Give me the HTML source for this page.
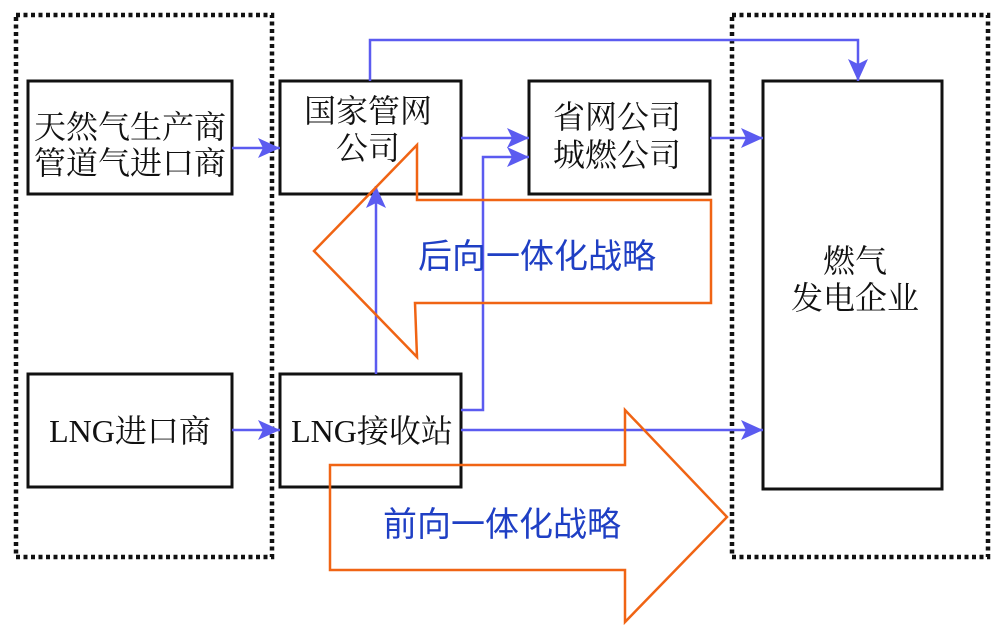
<!DOCTYPE html>
<html><head><meta charset="utf-8"><style>
body{margin:0;background:#fff}
svg text{font-family:"Liberation Serif","Noto Serif CJK SC",serif;font-size:32px;fill:#111}
.b{font-family:"Liberation Sans","Noto Sans CJK SC",sans-serif;fill:#1f3fc4;font-size:34px}
</style></head><body>
<svg width="1005" height="632" viewBox="0 0 1005 632" xmlns="http://www.w3.org/2000/svg">
<defs>
<marker id="m" viewBox="0 0 22 20" markerWidth="22" markerHeight="20" refX="22" refY="10" orient="auto" markerUnits="userSpaceOnUse"><path d="M0,0 L22,10 L0,20 L5,10 Z" fill="#5b5bf0"/></marker></defs>
<rect x="16" y="15" width="256" height="542" fill="none" stroke="#111" stroke-width="4.5" stroke-dasharray="4 3.5"/>
<rect x="732" y="15" width="256" height="542" fill="none" stroke="#111" stroke-width="4.5" stroke-dasharray="4 3.5"/>
<g fill="none" stroke="#111" stroke-width="3">
<rect x="28" y="81" width="204" height="113"/>
<rect x="280" y="81" width="181" height="113"/>
<rect x="529" y="81" width="181" height="113"/>
<rect x="763" y="81" width="179" height="408"/>
<rect x="28" y="374" width="204" height="113"/>
<rect x="280" y="374" width="181" height="113"/>
</g>
<g fill="none" stroke="#5b5bf0" stroke-width="2.5">
<path d="M232 148 H280" marker-end="url(#m)"/>
<path d="M461 138 H529" marker-end="url(#m)"/>
<path d="M710 138 H763" marker-end="url(#m)"/>
<path d="M370 81 V40 H858 V81" marker-end="url(#m)"/>
<path d="M461 430 H763" marker-end="url(#m)"/>
<path d="M232 430 H280" marker-end="url(#m)"/>
<path d="M376 374 V186" marker-end="url(#m)"/>
<path d="M461 410 H483 V157 H529" marker-end="url(#m)"/>
</g>
<path d="M314 251 L417 145 L417 200 L711 200 L711 303 L415 303 L417 357 Z" fill="none" stroke="#f06414" stroke-width="2.5"/>
<path d="M330 465 L625 465 L625 410 L727 517 L625 622 L625 570 L330 570 Z" fill="none" stroke="#f06414" stroke-width="2.5"/>
<text x="130" y="138" text-anchor="middle">天然气生产商</text>
<text x="130" y="174" text-anchor="middle">管道气进口商</text>
<text x="368" y="122" text-anchor="middle">国家管网</text>
<text x="368" y="159" text-anchor="middle">公司</text>
<text x="617" y="128" text-anchor="middle">省网公司</text>
<text x="617" y="166" text-anchor="middle">城燃公司</text>
<text x="855" y="272" text-anchor="middle">燃气</text>
<text x="855" y="309" text-anchor="middle">发电企业</text>
<text x="130" y="442" text-anchor="middle">LNG进口商</text>
<text x="372" y="442" text-anchor="middle">LNG接收站</text>
<text class="b" x="537" y="268" text-anchor="middle">后向一体化战略</text>
<text class="b" x="502" y="536" text-anchor="middle">前向一体化战略</text>
</svg>
</body></html>
